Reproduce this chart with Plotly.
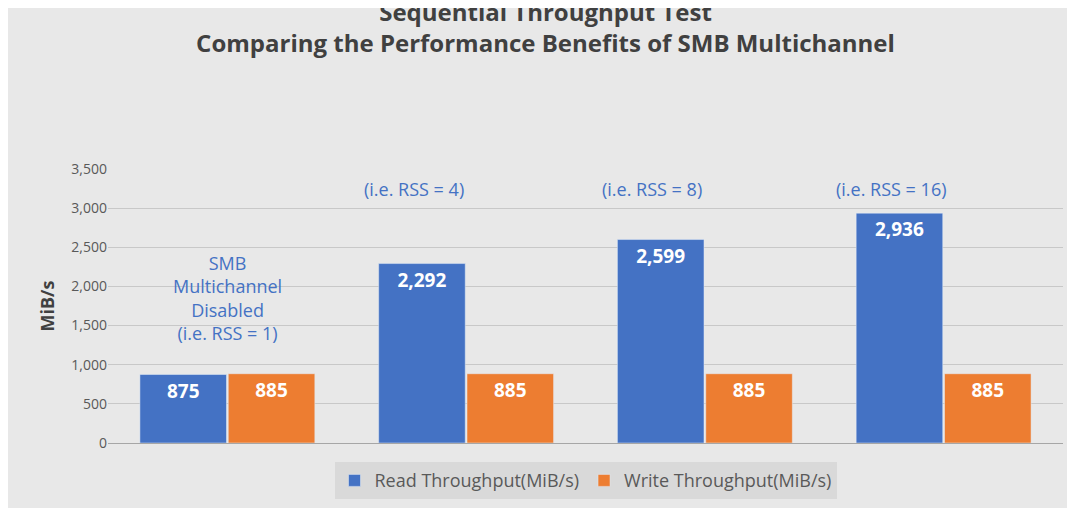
import plotly.graph_objects as go

groups = [0, 1, 2, 3]
read_vals = [875, 2292, 2599, 2936]
write_vals = [885, 885, 885, 885]
rss_labels = ["(i.e. RSS = 4)", "(i.e. RSS = 8)", "(i.e. RSS = 16)"]

fig = go.Figure()
fig.add_bar(x=groups, y=read_vals, name="Read Throughput(MiB/s)", marker_color="#4472C4",
            text=[f"{v:,}" for v in read_vals], textposition="inside", insidetextanchor="end",
            textfont=dict(color="white", size=19, family="Open Sans"), texttemplate="<b>%{text}</b>")
fig.add_bar(x=groups, y=write_vals, name="Write Throughput(MiB/s)", marker_color="#ED7D31",
            text=[f"{v:,}" for v in write_vals], textposition="inside", insidetextanchor="end",
            textfont=dict(color="white", size=19, family="Open Sans"), texttemplate="<b>%{text}</b>")

blue = "#4472C4"
ann = [dict(x=0, y=1850, text="SMB<br>Multichannel<br>Disabled<br>(i.e. RSS = 1)", showarrow=False,
            font=dict(color=blue, size=18))]
ann.append(dict(x=1.85, y=3660, text="SMB Multichannel Enabled", showarrow=False, font=dict(color=blue, size=18)))
for i, t in enumerate(rss_labels):
    ann.append(dict(x=i + 0.78, y=3250, text=t, showarrow=False, font=dict(color=blue, size=18)))

fig.update_layout(
    width=1075, height=508,
    margin=dict(l=100, r=20, t=161, b=73, autoexpand=False),
    paper_bgcolor="#e8e8e8", plot_bgcolor="rgba(0,0,0,0)",
    font=dict(family="Open Sans", color="#595959"),
    title=dict(text="<b>Sequential Throughput Test<br>Comparing the Performance Benefits of SMB Multichannel</b>",
               x=0.5, xanchor="center", y=0.975, yanchor="top", yref="container",
               font=dict(size=24, color="#404040")),
    barmode="group", bargap=0.26, bargroupgap=0.02,
    xaxis=dict(range=[-0.5, 3.5], showticklabels=False, showgrid=False, zeroline=False,
               showline=True, linecolor="#a6a6a6"),
    yaxis=dict(range=[0, 3500], dtick=500, tickformat=",", gridcolor="#c8c8c8", zeroline=False,
               tickfont=dict(size=14, color="#595959"),
               title=dict(text="<b>MiB/s</b>", font=dict(size=18, color="#404040"), standoff=12)),
    legend=dict(orientation="h", x=0.5, xanchor="center", y=-0.07, yanchor="top",
                bgcolor="#d9d9d9", font=dict(size=18, color="#595959")),
    annotations=ann,
)
fig.write_html("out.html")
